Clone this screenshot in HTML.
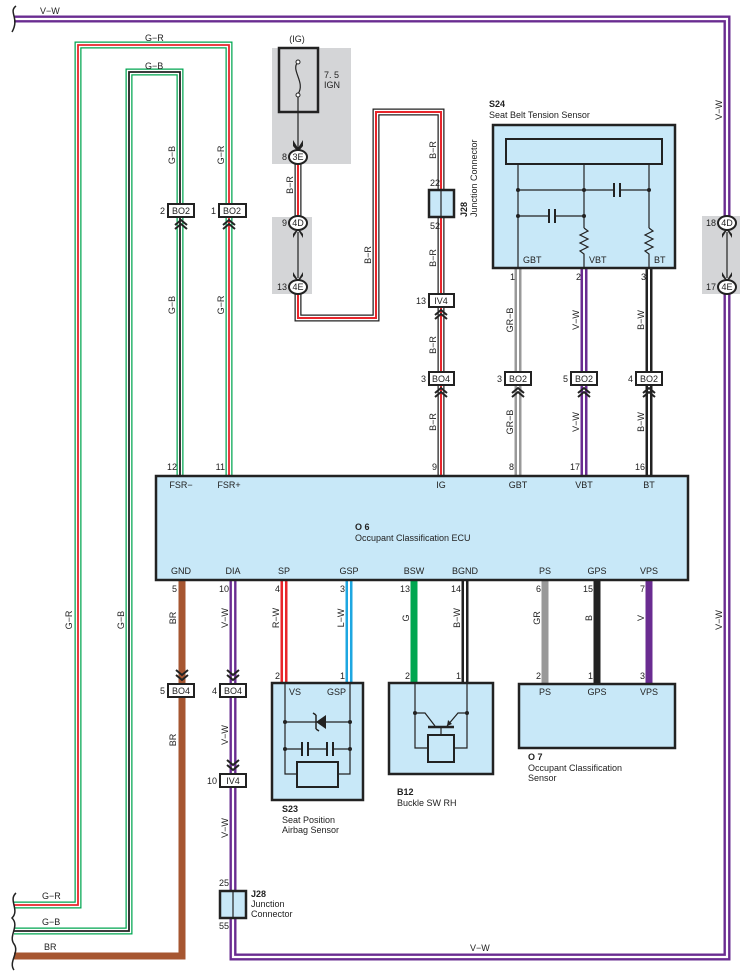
<!DOCTYPE html>
<html><head><meta charset="utf-8"><style>
html,body{margin:0;padding:0;background:#fff;}
svg{display:block;font-family:"Liberation Sans",sans-serif;}
text{font-size:9px;fill:#222;}
.b{font-weight:bold;}
.bx{fill:#c8e8f8;stroke:#222;stroke-width:2.5;}
.cn{fill:#fff;stroke:#222;stroke-width:2;}
.ln{fill:none;stroke:#222;stroke-width:1.2;}
.ch{fill:none;stroke:#222;stroke-width:2;}
</style></head><body>
<svg width="749" height="978" viewBox="0 0 749 978" xmlns="http://www.w3.org/2000/svg">
<rect x="272" y="48" width="79" height="116" fill="#d4d5d7"/>
<rect x="272" y="217" width="40" height="77" fill="#d4d5d7"/>
<rect x="702" y="216" width="38" height="78" fill="#d4d5d7"/>

<path d="M14,19 H727 V957 H233 V580" fill="none" stroke="#6a2c91" stroke-width="7"/>
<path d="M14,19 H727 V957 H233 V580" fill="none" stroke="#fff" stroke-width="2.2"/>
<path d="M14,905 H78 V45 H229 V476" fill="none" stroke="#00a650" stroke-width="7"/>
<path d="M14,905 H78 V45 H229 V476" fill="none" stroke="#fff" stroke-width="4.5"/>
<path d="M14,905 H78 V45 H229 V476" fill="none" stroke="#e8262b" stroke-width="1.8"/>
<path d="M14,931 H129 V72 H180 V476" fill="none" stroke="#00a650" stroke-width="7"/>
<path d="M14,931 H129 V72 H180 V476" fill="none" stroke="#fff" stroke-width="4.5"/>
<path d="M14,931 H129 V72 H180 V476" fill="none" stroke="#222" stroke-width="1.8"/>
<path d="M14,956 H182 V580" fill="none" stroke="#a65631" stroke-width="7"/>
<g fill="none">
<path d="M298,160 V220" stroke="#222" stroke-width="7"/>
<path d="M298,160 V220" stroke="#fff" stroke-width="4.5"/>
<path d="M298,160 V220" stroke="#e8262b" stroke-width="2"/>
<path d="M298,292 V318 H376 V112 H441 V476" stroke="#222" stroke-width="7"/>
<path d="M298,292 V318 H376 V112 H441 V476" stroke="#fff" stroke-width="4.5"/>
<path d="M298,292 V318 H376 V112 H441 V476" stroke="#e8262b" stroke-width="2"/>
<path d="M518,268 V476" stroke="#999" stroke-width="7"/>
<path d="M518,268 V476" stroke="#fff" stroke-width="2"/>
<path d="M584,268 V476" stroke="#6a2c91" stroke-width="7"/>
<path d="M584,268 V476" stroke="#fff" stroke-width="2"/>
<path d="M649,268 V476" stroke="#222" stroke-width="7"/>
<path d="M649,268 V476" stroke="#fff" stroke-width="2"/>
<path d="M284,580 V683" stroke="#e8262b" stroke-width="7"/>
<path d="M284,580 V683" stroke="#fff" stroke-width="2"/>
<path d="M349,580 V683" stroke="#1ea7e1" stroke-width="7"/>
<path d="M349,580 V683" stroke="#fff" stroke-width="2"/>
<path d="M414,580 V683" stroke="#00a650" stroke-width="7"/>
<path d="M465,580 V683" stroke="#222" stroke-width="7"/>
<path d="M465,580 V683" stroke="#fff" stroke-width="2"/>
<path d="M545,580 V684" stroke="#999" stroke-width="7"/>
<path d="M597,580 V684" stroke="#222" stroke-width="7"/>
<path d="M649,580 V684" stroke="#6a2c91" stroke-width="7"/>
</g>

<rect x="279" y="48" width="39" height="64" fill="none" stroke="#222" stroke-width="2.5"/>
<path d="M298,62 C290,70 306,82 298,94" class="ln"/>
<circle cx="298" cy="62" r="2" fill="#fff" stroke="#222"/>
<circle cx="298" cy="95" r="2" fill="#fff" stroke="#222"/>
<line x1="298" y1="97" x2="298" y2="148" class="ln"/>
<path d="M293,140 L298,148 L303,140 L303,146 L298,152 L293,146Z" fill="#222"/>
<text x="297" y="42" text-anchor="middle">(IG)</text>
<text x="324" y="78">7. 5</text>
<text x="324" y="88">IGN</text>
<line x1="298" y1="232" x2="298" y2="278" class="ln"/>
<path d="M293,238 L298,230 L303,238 L303,234 L298,228 L293,234Z" fill="#222"/>
<path d="M293,272 L298,280 L303,272 L303,276 L298,282 L293,276Z" fill="#222"/>
<rect x="723" y="230" width="8" height="50" fill="#d4d5d7"/>
<line x1="727" y1="232" x2="727" y2="278" class="ln"/>
<path d="M722,238 L727,230 L732,238 L732,234 L727,228 L722,234Z" fill="#222"/>
<path d="M722,272 L727,280 L732,272 L732,276 L727,282 L722,276Z" fill="#222"/>

<g text-anchor="middle">
<ellipse cx="298" cy="157" rx="9" ry="7" class="cn"/><text x="298" y="160">3E</text>
<ellipse cx="298" cy="223" rx="9" ry="7" class="cn"/><text x="298" y="226">4D</text>
<ellipse cx="298" cy="287" rx="9" ry="7" class="cn"/><text x="298" y="290">4E</text>
<ellipse cx="727" cy="223" rx="9" ry="7" class="cn"/><text x="727" y="226">4D</text>
<ellipse cx="727" cy="287" rx="9" ry="7" class="cn"/><text x="727" y="290">4E</text>
</g>
<g text-anchor="end">
<text x="287" y="160">8</text><text x="287" y="226">9</text><text x="287" y="290">13</text>
<text x="716" y="226">18</text><text x="716" y="290">17</text>
</g>

<g text-anchor="middle">
<rect x="168" y="204" width="26" height="13" class="cn"/><text x="181" y="214">BO2</text>
<rect x="219" y="204" width="27" height="13" class="cn"/><text x="232" y="214">BO2</text>
<rect x="429" y="294" width="25" height="13" class="cn"/><text x="441" y="304">IV4</text>
<rect x="429" y="372" width="25" height="13" class="cn"/><text x="441" y="382">BO4</text>
<rect x="505" y="372" width="26" height="13" class="cn"/><text x="518" y="382">BO2</text>
<rect x="571" y="372" width="26" height="13" class="cn"/><text x="584" y="382">BO2</text>
<rect x="636" y="372" width="26" height="13" class="cn"/><text x="649" y="382">BO2</text>
<rect x="168" y="684" width="26" height="13" class="cn"/><text x="181" y="694">BO4</text>
<rect x="220" y="684" width="26" height="13" class="cn"/><text x="233" y="694">BO4</text>
<rect x="220" y="774" width="26" height="13" class="cn"/><text x="233" y="784">IV4</text>
</g>
<g text-anchor="end">
<text x="165" y="214">2</text><text x="216" y="214">1</text>
<text x="426" y="304">13</text><text x="426" y="382">3</text>
<text x="502" y="382">3</text><text x="568" y="382">5</text><text x="633" y="382">4</text>
<text x="165" y="694">5</text><text x="217" y="694">4</text><text x="217" y="784">10</text>
</g>
<g class="ch">
<path d="M175,225 l6,-5 l6,5 M175,229 l6,-5 l6,5"/>
<path d="M223,225 l6,-5 l6,5 M223,229 l6,-5 l6,5"/>
<path d="M435,315 l6,-5 l6,5 M435,319 l6,-5 l6,5"/>
<path d="M435,393 l6,-5 l6,5 M435,397 l6,-5 l6,5"/>
<path d="M512,393 l6,-5 l6,5 M512,397 l6,-5 l6,5"/>
<path d="M578,393 l6,-5 l6,5 M578,397 l6,-5 l6,5"/>
<path d="M643,393 l6,-5 l6,5 M643,397 l6,-5 l6,5"/>
<path d="M176,670 l6,5 l6,-5 M176,675 l6,5 l6,-5"/>
<path d="M227,670 l6,5 l6,-5 M227,675 l6,5 l6,-5"/>
<path d="M227,760 l6,5 l6,-5 M227,765 l6,5 l6,-5"/>
</g>

<rect x="429" y="190" width="25" height="27" class="bx" stroke-width="2"/>
<line x1="441" y1="190" x2="441" y2="217" class="ln"/>
<text x="440" y="186" text-anchor="end">22</text>
<text x="440" y="229" text-anchor="end">52</text>
<text transform="translate(467,217) rotate(-90)" class="b">J28</text>
<text transform="translate(477,217) rotate(-90)">Junction Connector</text>
<rect x="220" y="891" width="26" height="27" class="bx" stroke-width="2"/>
<line x1="233" y1="891" x2="233" y2="918" class="ln"/>
<text x="219" y="886">25</text>
<text x="219" y="929">55</text>
<text x="251" y="897" class="b">J28</text>
<text x="251" y="907">Junction</text>
<text x="251" y="917">Connector</text>

<text x="489" y="107" class="b">S24</text>
<text x="489" y="118">Seat Belt Tension Sensor</text>
<rect x="493" y="125" width="182" height="143" class="bx"/>
<rect x="506" y="139" width="156" height="25" fill="none" stroke="#222" stroke-width="2"/>
<g class="ln">
<line x1="518" y1="164" x2="518" y2="268"/>
<line x1="584" y1="164" x2="584" y2="228"/>
<line x1="649" y1="164" x2="649" y2="228"/>
<line x1="518" y1="190" x2="614" y2="190"/><line x1="620" y1="190" x2="649" y2="190"/>
<line x1="518" y1="216" x2="549" y2="216"/><line x1="555" y1="216" x2="584" y2="216"/>
<path d="M584,228 l4,3 l-8,4 l8,4 l-8,4 l8,4 l-8,4 l4,3 V268"/>
<path d="M649,228 l4,3 l-8,4 l8,4 l-8,4 l8,4 l-8,4 l4,3 V268"/>
</g>
<g stroke="#222" stroke-width="2"><line x1="614" y1="183" x2="614" y2="197"/><line x1="620" y1="183" x2="620" y2="197"/>
<line x1="549" y1="209" x2="549" y2="223"/><line x1="555" y1="209" x2="555" y2="223"/></g>
<g fill="#222"><circle cx="518" cy="190" r="2"/><circle cx="584" cy="190" r="2"/><circle cx="649" cy="190" r="2"/><circle cx="518" cy="216" r="2"/><circle cx="584" cy="216" r="2"/></g>
<text x="523" y="263">GBT</text><text x="589" y="263">VBT</text><text x="654" y="263">BT</text>
<g text-anchor="end"><text x="515" y="280">1</text><text x="581" y="280">2</text><text x="646" y="280">3</text></g>

<rect x="156" y="476" width="532" height="104" class="bx"/>
<g text-anchor="middle">
<text x="181" y="488">FSR−</text><text x="229" y="488">FSR+</text><text x="441" y="488">IG</text>
<text x="518" y="488">GBT</text><text x="584" y="488">VBT</text><text x="649" y="488">BT</text>
<text x="181" y="574">GND</text><text x="233" y="574">DIA</text><text x="284" y="574">SP</text>
<text x="349" y="574">GSP</text><text x="414" y="574">BSW</text><text x="465" y="574">BGND</text>
<text x="545" y="574">PS</text><text x="597" y="574">GPS</text><text x="649" y="574">VPS</text>
</g>
<text x="355" y="530" class="b">O 6</text>
<text x="355" y="541">Occupant Classification ECU</text>
<g text-anchor="end">
<text x="177" y="470">12</text><text x="225" y="470">11</text><text x="437" y="470">9</text>
<text x="514" y="470">8</text><text x="580" y="470">17</text><text x="645" y="470">16</text>
<text x="177" y="592">5</text><text x="229" y="592">10</text><text x="280" y="592">4</text>
<text x="345" y="592">3</text><text x="410" y="592">13</text><text x="461" y="592">14</text>
<text x="541" y="592">6</text><text x="593" y="592">15</text><text x="645" y="592">7</text>
<text x="280" y="679">2</text><text x="345" y="679">1</text><text x="410" y="679">2</text><text x="461" y="679">1</text>
<text x="541" y="679">2</text><text x="593" y="679">1</text><text x="645" y="679">3</text>
</g>

<rect x="272" y="683" width="91" height="117" class="bx"/>
<text x="289" y="695">VS</text><text x="327" y="695">GSP</text>
<g class="ln">
<path d="M285,683 V774 H297 M350,683 V774 H338"/>
<line x1="285" y1="722" x2="350" y2="722"/>
<path d="M285,749 H302 M308,749 H327 M333,749 H350"/>
</g>
<path d="M316,722 L326,715 L326,729 Z" fill="#222"/>
<path d="M316,715 V729 M316,715 l-3,-2 M316,729 l3,2" stroke="#222" stroke-width="1.5" fill="none"/>
<g stroke="#222" stroke-width="2"><line x1="302" y1="742" x2="302" y2="756"/><line x1="308" y1="742" x2="308" y2="756"/><line x1="327" y1="742" x2="327" y2="756"/><line x1="333" y1="742" x2="333" y2="756"/></g>
<rect x="297" y="762" width="41" height="25" fill="none" stroke="#222" stroke-width="2"/>
<g fill="#222"><circle cx="285" cy="722" r="2"/><circle cx="350" cy="722" r="2"/><circle cx="285" cy="749" r="2"/><circle cx="350" cy="749" r="2"/></g>
<text x="282" y="812" class="b">S23</text>
<text x="282" y="823">Seat Position</text>
<text x="282" y="833">Airbag Sensor</text>

<rect x="389" y="683" width="104" height="91" class="bx"/>
<g class="ln">
<path d="M415,683 V748 H428 M467,683 V748 H454"/>
<path d="M415,713 H425 L435,726 M467,713 H458 L447,726"/>
<line x1="441" y1="727" x2="441" y2="735"/>
</g>
<path d="M447,726 l1,-6 l4,4 Z" fill="#222"/>
<line x1="428" y1="727" x2="454" y2="727" stroke="#222" stroke-width="2.5"/>
<rect x="428" y="735" width="26" height="27" fill="none" stroke="#222" stroke-width="2"/>
<g fill="#222"><circle cx="415" cy="713" r="2"/><circle cx="467" cy="713" r="2"/></g>
<text x="397" y="795" class="b">B12</text>
<text x="397" y="806">Buckle SW RH</text>

<rect x="519" y="684" width="156" height="64" class="bx"/>
<g text-anchor="middle"><text x="545" y="695">PS</text><text x="597" y="695">GPS</text><text x="649" y="695">VPS</text></g>
<text x="528" y="760" class="b">O 7</text>
<text x="528" y="771">Occupant Classification</text>
<text x="528" y="781">Sensor</text>

<text x="40" y="14">V−W</text>
<text x="145" y="41">G−R</text>
<text x="145" y="69">G−B</text>
<text x="42" y="899">G−R</text>
<text x="42" y="925">G−B</text>
<text x="44" y="950">BR</text>
<text x="470" y="951">V−W</text>

<g text-anchor="middle">
<text transform="translate(175,155) rotate(-90)">G−B</text>
<text transform="translate(224,155) rotate(-90)">G−R</text>
<text transform="translate(175,305) rotate(-90)">G−B</text>
<text transform="translate(224,305) rotate(-90)">G−R</text>
<text transform="translate(72,620) rotate(-90)">G−R</text>
<text transform="translate(124,620) rotate(-90)">G−B</text>
<text transform="translate(293,185) rotate(-90)">B−R</text>
<text transform="translate(371,255) rotate(-90)">B−R</text>
<text transform="translate(436,150) rotate(-90)">B−R</text>
<text transform="translate(436,258) rotate(-90)">B−R</text>
<text transform="translate(436,345) rotate(-90)">B−R</text>
<text transform="translate(436,422) rotate(-90)">B−R</text>
<text transform="translate(513,320) rotate(-90)">GR−B</text>
<text transform="translate(513,422) rotate(-90)">GR−B</text>
<text transform="translate(579,320) rotate(-90)">V−W</text>
<text transform="translate(579,422) rotate(-90)">V−W</text>
<text transform="translate(644,320) rotate(-90)">B−W</text>
<text transform="translate(644,422) rotate(-90)">B−W</text>
<text transform="translate(722,110) rotate(-90)">V−W</text>
<text transform="translate(722,620) rotate(-90)">V−W</text>
<text transform="translate(176,618) rotate(-90)">BR</text>
<text transform="translate(176,740) rotate(-90)">BR</text>
<text transform="translate(228,618) rotate(-90)">V−W</text>
<text transform="translate(228,735) rotate(-90)">V−W</text>
<text transform="translate(228,828) rotate(-90)">V−W</text>
<text transform="translate(279,618) rotate(-90)">R−W</text>
<text transform="translate(344,618) rotate(-90)">L−W</text>
<text transform="translate(409,618) rotate(-90)">G</text>
<text transform="translate(460,618) rotate(-90)">B−W</text>
<text transform="translate(540,618) rotate(-90)">GR</text>
<text transform="translate(592,618) rotate(-90)">B</text>
<text transform="translate(644,618) rotate(-90)">V</text>
</g>

<g fill="none" stroke="#222" stroke-width="1.5">
<path d="M16,6 C8,12 20,18 12,32"/>
<path d="M16,893 C8,900 20,910 12,918 C20,926 8,936 14,944 C20,952 8,962 14,970"/>
</g>
</svg>
</body></html>
